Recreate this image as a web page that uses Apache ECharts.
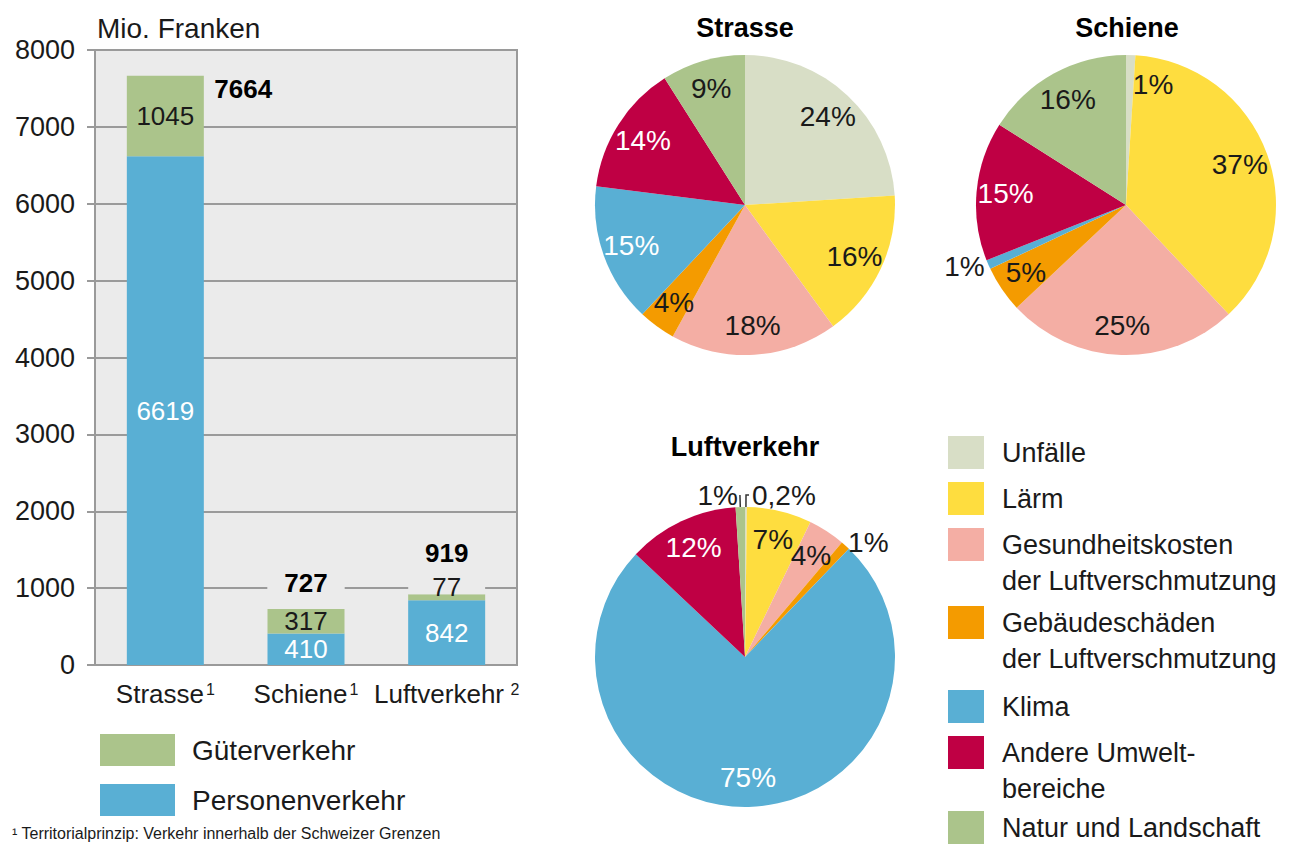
<!DOCTYPE html>
<html><head><meta charset="utf-8">
<script src="https://cdn.jsdelivr.net/npm/echarts@6/dist/echarts.min.js"></script>
<style>html,body{margin:0;padding:0;background:#fff}#c{width:1301px;height:844px}</style>
</head><body><div id="c"></div>
<script>
// ---------- data ----------
const categories = ['Strasse', 'Schiene', 'Luftverkehr'];
const categoryNotes = ['1', '1', ' 2'];
const personenverkehr = [6619, 410, 842];
const gueterverkehr = [1045, 317, 77];
const totals = [7664, 727, 919];
const yMin = 0, yMax = 8000, yStep = 1000;
const yAxisTitle = 'Mio. Franken';

const costTypes = ['Unfälle', 'Lärm', 'Gesundheitskosten der Luftverschmutzung',
  'Gebäudeschäden der Luftverschmutzung', 'Klima', 'Andere Umweltbereiche', 'Natur und Landschaft'];
const costTypeLabels = ['Unfälle', 'Lärm', 'Gesundheitskosten\nder Luftverschmutzung',
  'Gebäudeschäden\nder Luftverschmutzung', 'Klima', 'Andere Umwelt-\nbereiche', 'Natur und Landschaft'];
const pieTitles = ['Strasse', 'Schiene', 'Luftverkehr'];
const strassePct = [24, 16, 18, 4, 15, 14, 9];
const schienePct = [1, 37, 25, 5, 1, 15, 16];
const luftPct = [0.2, 7, 4, 1, 75, 12, 1];
const footnote = '¹ Territorialprinzip: Verkehr innerhalb der Schweizer Grenzen';

// ---------- style ----------
const F = "'Liberation Sans', Arial, sans-serif";
const DARK = '#1a1a1a';
const BLUE = '#59afd4', GREEN = '#abc48b';
const PIE_COLORS = ['#d8dec6', '#fedd3f', '#f4aea4', '#f49b00', '#59afd4', '#bf0044', '#abc48b'];
const WHITE_LABEL = [4, 5];
const PIE_CENTERS = [[745, 205], [1126, 205], [745, 657]];
const PIE_R = 150;
// outside-label settings per pie: index -> {line, len, len2, dist}
const OUTSIDE = [
  {},
  {4: {line: false, len: 4, len2: 0, dist: 0}},
  {0: {line: true, len: 12, len2: 3, dist: 3}, 3: {line: false, len: 4, len2: 0, dist: 0}, 6: {line: true, len: 12, len2: 0, dist: 2}}
];
// extra inside-label tweaks (padding) per pie
const LABEL_PAD = [{}, {0: [0, 0, 14, 30]}, {}];
// pie legend blocks: [item indices, top of first icon, text line height]
const LEGEND_BLOCKS = [[[0, 1], 436, 36], [[2], 528, 36], [[3], 606, 36], [[4], 690, 36], [[5], 736, 36], [[6], 811, 28]];

const fmtPct = v => String(v).replace('.', ',') + '%';

function pieSeries(k, values) {
  const out = OUTSIDE[k];
  const c = PIE_CENTERS[k];
  return {
    name: pieTitles[k], type: 'pie', center: c, radius: PIE_R, startAngle: 90, clockwise: true,
    avoidLabelOverlap: false, silent: true, animation: false,
    itemStyle: {borderWidth: 0},
    label: {show: true, position: 'inside', fontSize: 28, fontFamily: F, color: DARK,
      formatter: p => fmtPct(p.value)},
    labelLine: {show: false},
    data: costTypes.map((name, i) => {
      const o = out[i];
      const item = {name, value: values[i], itemStyle: {color: PIE_COLORS[i]}};
      if (o) {
        item.label = {position: 'outside', color: DARK, distanceToLabelLine: o.dist};
        item.labelLine = {show: o.line, length: o.len, length2: o.len2, smooth: false,
          lineStyle: {color: '#333', width: 1.5}};
      } else {
        item.label = {};
        if (WHITE_LABEL.indexOf(i) >= 0) item.label.color = '#fff';
        if (LABEL_PAD[k][i]) item.label.padding = LABEL_PAD[k][i];
      }
      return item;
    }),
    labelLayout: function (p) {
      if (out[p.dataIndex]) return {};
      const r = p.labelRect;
      const lx = r.x + r.width / 2, ly = r.y + r.height / 2;
      return {dx: (lx - c[0]) * 0.55, dy: (ly - c[1]) * 0.55};
    }
  };
}

// two-line legend entries get an empty first line so that the icon sits beside the first text line
function pieLegend(block) {
  const idx = block[0], iconTop = block[1], lh = block[2];
  const twoLine = costTypeLabels[idx[0]].indexOf('\n') >= 0;
  return {
    data: idx.map(i => costTypes[i]), orient: 'vertical', left: 948,
    top: iconTop - (twoLine ? (3 * lh - 33) / 2 : Math.max(0, (lh - 33) / 2)), height: 300,
    itemWidth: 36, itemHeight: 33, itemGap: 10, icon: 'rect', padding: 0, selectedMode: false,
    formatter: name => {
      const t = costTypeLabels[costTypes.indexOf(name)];
      return t.indexOf('\n') >= 0 ? '\n' + t : t;
    },
    textStyle: {fontSize: 27, lineHeight: lh, color: DARK, fontFamily: F, padding: [0, 0, 0, 13]}
  };
}

const chart = echarts.init(document.getElementById('c'), null, {renderer: 'svg'});
const totalLabels = [
  {position: 'right', distance: 49, offset: [0, 13]},
  {position: 'top', distance: 19, backgroundColor: '#ebebeb', padding: [0, 17]},
  {position: 'top', distance: 34}
];

chart.setOption({
  animation: false,
  textStyle: {fontFamily: F},
  grid: {left: 95, top: 50, width: 422, height: 615, show: true, backgroundColor: '#ebebeb',
    borderColor: '#9a9a9a', borderWidth: 2},
  xAxis: {
    type: 'category', data: categories,
    axisLine: {lineStyle: {color: '#9a9a9a', width: 2}},
    axisTick: {show: false},
    axisLabel: {
      interval: 0, margin: 16, color: DARK, fontSize: 26, fontFamily: F,
      formatter: (v, i) => '{a|' + v + '}{s|' + categoryNotes[i] + '}',
      rich: {a: {fontSize: 26, fontFamily: F, color: DARK},
        s: {fontSize: 16, fontFamily: F, color: DARK, verticalAlign: 'top', padding: [0, 0, 0, 2]}}
    }
  },
  yAxis: {
    type: 'value', min: yMin, max: yMax, interval: yStep,
    name: yAxisTitle, nameLocation: 'end', nameGap: 8,
    nameTextStyle: {align: 'left', fontSize: 28, fontFamily: F, color: DARK, padding: [0, 0, 0, 2]},
    axisLine: {show: true, lineStyle: {color: '#9a9a9a', width: 2}},
    axisTick: {show: true, length: 8, lineStyle: {color: '#9a9a9a', width: 2}},
    splitLine: {lineStyle: {color: '#9a9a9a', width: 2}},
    axisLabel: {margin: 20, fontSize: 27, fontFamily: F, color: DARK, formatter: v => String(v)}
  },
  legend: [
    {data: ['Güterverkehr', 'Personenverkehr'], orient: 'vertical', left: 100, top: 731.5, height: 200,
      itemWidth: 75, itemHeight: 32, itemGap: 13, icon: 'rect', padding: 0, selectedMode: false,
      textStyle: {fontSize: 28, lineHeight: 37, color: DARK, fontFamily: F, padding: [0, 0, 0, 12]}}
  ].concat(LEGEND_BLOCKS.map(pieLegend)),
  graphic: [
    {type: 'text', x: 745, y: 28, style: {text: pieTitles[0], align: 'center', verticalAlign: 'middle',
      fontSize: 27, fontWeight: 'bold', fontFamily: F, fill: '#000'}},
    {type: 'text', x: 1127, y: 28, style: {text: pieTitles[1], align: 'center', verticalAlign: 'middle',
      fontSize: 27, fontWeight: 'bold', fontFamily: F, fill: '#000'}},
    {type: 'text', x: 745, y: 447, style: {text: pieTitles[2], align: 'center', verticalAlign: 'middle',
      fontSize: 27, fontWeight: 'bold', fontFamily: F, fill: '#000'}},
    {type: 'text', x: 12, y: 824, style: {text: footnote, align: 'left', verticalAlign: 'top',
      fontSize: 16, lineHeight: 18, fontFamily: F, fill: DARK}}
  ],
  series: [
    {name: 'Personenverkehr', type: 'bar', stack: 'total', barWidth: 77, data: personenverkehr,
      itemStyle: {color: BLUE}, silent: true,
      label: {show: true, position: 'inside', color: '#fff', fontSize: 26, fontFamily: F}},
    {name: 'Güterverkehr', type: 'bar', stack: 'total', barWidth: 77, silent: true,
      data: gueterverkehr.map((v, i) => i === 2
        ? {value: v, label: {position: 'top', distance: 0, lineHeight: 14, backgroundColor: '#ebebeb', padding: [0, 24]}}
        : v),
      itemStyle: {color: GREEN},
      label: {show: true, position: 'inside', color: DARK, fontSize: 26, fontFamily: F},
      markPoint: {
        symbol: 'circle', symbolSize: 0, silent: true,
        data: totals.map((t, i) => ({coord: [i, t], value: t,
          label: Object.assign({show: true, fontWeight: 'bold', fontSize: 26, fontFamily: F, color: '#000',
            lineHeight: 14, formatter: '{c}'}, totalLabels[i])}))
      }},
    pieSeries(0, strassePct),
    pieSeries(1, schienePct),
    pieSeries(2, luftPct)
  ]
});
</script></body></html>
